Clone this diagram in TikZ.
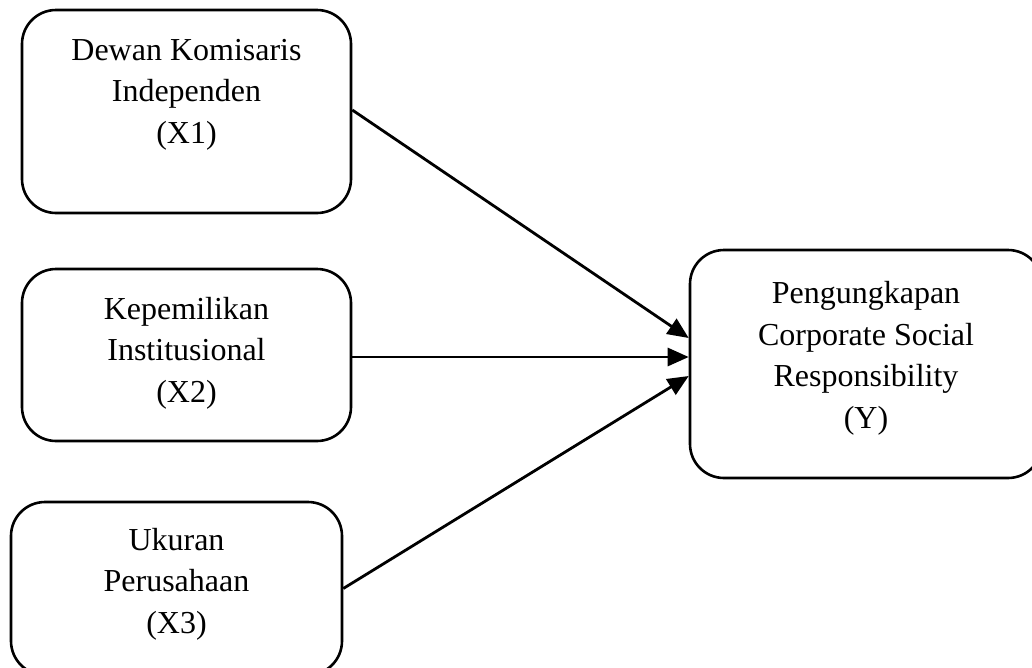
\documentclass[tikz,border=0pt]{standalone}
\usepackage{fontspec}
\setmainfont{Liberation Serif}
\usetikzlibrary{arrows.meta}
\begin{document}
\begin{tikzpicture}[x=1pt,y=-1pt,
  box/.style={draw, line width=2.6pt, rounded corners=34pt, inner sep=0pt},
  lbl/.style={align=center, font=\fontsize{32}{41.5}\selectfont, inner sep=0pt, anchor=base},
  arr/.style={line width=2.8pt, -{Triangle[length=21pt,width=18pt]}}]
\useasboundingbox (0,0) rectangle (1032,667);
\node[box, minimum width=329pt, minimum height=203pt] (b1) at (186.5,111.5) {};
\node[box, minimum width=329pt, minimum height=172pt] (b2) at (186.5,355) {};
\node[box, minimum width=331pt, minimum height=173pt] (b3) at (176.5,588.5) {};
\node[box, minimum width=352pt, minimum height=228pt] (y) at (866,364) {};
\node[lbl] (t1) at (186.5,143) {Dewan Komisaris\\Independen\\(X1)};
\node[lbl] (t2) at (186.5,402) {Kepemilikan\\Institusional\\(X2)};
\node[lbl] (t3) at (176.5,633) {Ukuran\\Perusahaan\\(X3)};
\node[lbl] (ty) at (866,428) {Pengungkapan\\Corporate Social\\Responsibility\\(Y)};
\draw[arr] ([yshift=1.5pt]b1.east) -- ([yshift=26pt]y.west);
\draw[arr] ([yshift=-2pt]b2.east) -- ([yshift=7pt]y.west);
\draw[arr] (b3.east) -- ([yshift=-12pt]y.west);
\end{tikzpicture}
\end{document}
